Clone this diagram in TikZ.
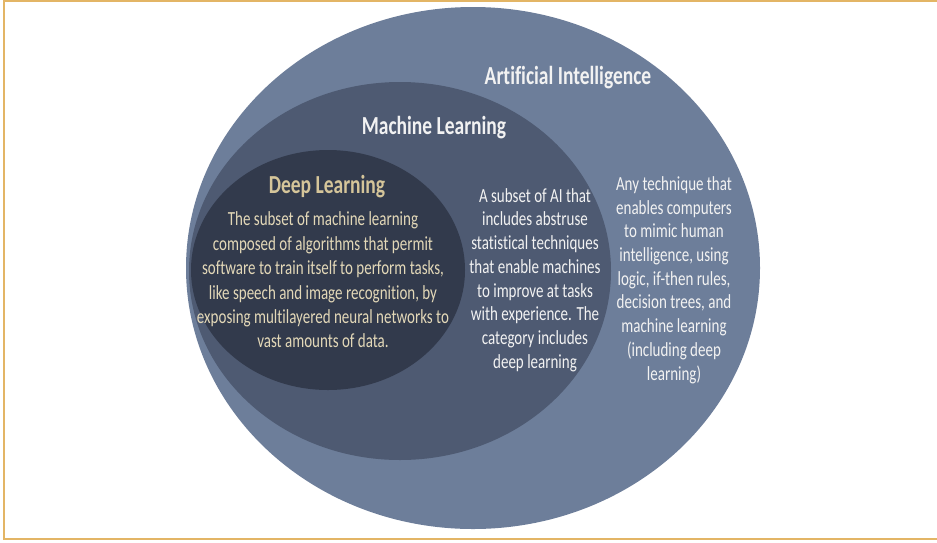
\documentclass[tikz,border=0pt]{standalone}
\usepackage{fontspec}
\setmainfont{Carlito}[FakeStretch=0.75, Ligatures=NoCommon]
\usetikzlibrary{shapes.geometric, positioning}
\definecolor{aiblue}{HTML}{6D7E9A}
\definecolor{mlblue}{HTML}{4E5A72}
\definecolor{dlblue}{HTML}{323A4C}
\definecolor{dltan}{HTML}{E3D8B8}
\definecolor{dlhead}{HTML}{D5C59A}
\definecolor{paleface}{HTML}{F2F2F2}
\definecolor{framegold}{HTML}{E3B565}

\begin{document}
\begin{tikzpicture}[x=1pt, y=-1pt]
\tikzstyle{field} = [ellipse, inner sep=0pt, draw=none]
\tikzstyle{heading} = [font=\fontsize{26}{30}\selectfont\bfseries, text=paleface]
\tikzstyle{blurb} = [align=center, font=\fontsize{20}{23.7}\selectfont, text=paleface]

\useasboundingbox (0,0) rectangle (937,542);
\draw[framegold, line width=2pt] (937,1) -- (4,1) -- (4,539) -- (937,539);

% nested fields
\node (ai) [field, fill=aiblue, minimum width=574pt, minimum height=522pt] at (473,268) {};
\node (ml) [field, fill=mlblue, minimum width=422pt, minimum height=378pt] at (400,271) {};
\node (dl) [field, fill=dlblue, minimum width=274pt, minimum height=240pt] at (328,270) {};

\node (aititle) [heading] at (568,78) {Artificial Intelligence};
\node (mltitle) [heading] at (434,128) {Machine Learning};
\node (dltitle) [heading, text=dlhead] at (327,187) {Deep Learning};

\node (dltext) [blurb, text=dltan, font=\fontsize{20}{24.4}\selectfont] at (323,280) {The subset of machine learning\\composed of algorithms that permit\\software to train itself to perform tasks,\\like speech and image recognition, by\\exposing multilayered neural networks to\\vast amounts of data.};
\node (mltext) [blurb] at (535,280) {A subset of AI that\\includes abstruse\\statistical techniques\\that enable machines\\to improve at tasks\\with experience. The\\category includes\\deep learning};
\node (aitext) [blurb] at (674,280) {Any technique that\\enables computers\\to mimic human\\intelligence, using\\logic, if-then rules,\\decision trees, and\\machine learning\\(including deep\\learning)};

\end{tikzpicture}
\end{document}
